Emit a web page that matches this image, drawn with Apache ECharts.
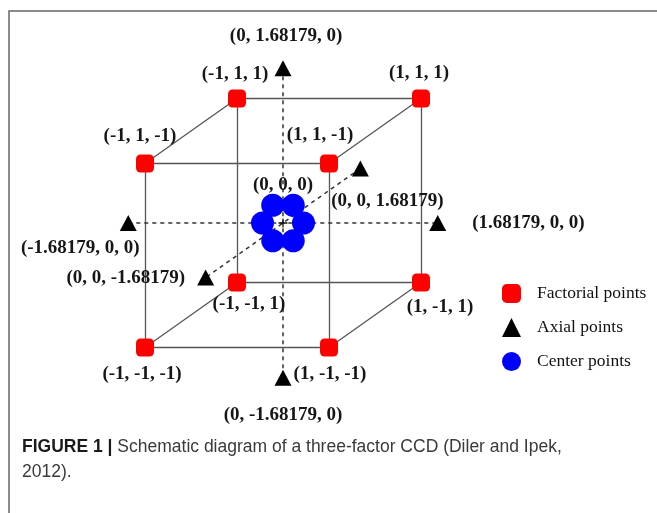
<!DOCTYPE html>
<html>
<head>
<meta charset="utf-8">
<script src="https://cdn.jsdelivr.net/npm/echarts@6/dist/echarts.min.js"></script>
<style>
  html, body { margin: 0; padding: 0; background: #fff; }
  #chart { width: 657px; height: 513px; }
</style>
</head>
<body>
<div id="chart"></div>
<script>
// Coded levels of a three-factor central composite design (CCD)
const alpha = 1.68179;

const factorialPoints = [
  [-1, 1, 1], [1, 1, 1], [-1, 1, -1], [1, 1, -1],
  [-1, -1, 1], [1, -1, 1], [-1, -1, -1], [1, -1, -1]
];

const axialPoints = [
  [0, alpha, 0], [0, -alpha, 0],
  [-alpha, 0, 0], [alpha, 0, 0],
  [0, 0, alpha], [0, 0, -alpha]
];

// six replicated runs at the design centre
const centerPoints = [[0, 0, 0], [0, 0, 0], [0, 0, 0], [0, 0, 0], [0, 0, 0], [0, 0, 0]];

const legendNames = ['Factorial points', 'Axial points', 'Center points'];

const captionHead = 'FIGURE 1 |';
const captionBody = 'Schematic diagram of a three-factor CCD (Diler and Ipek,\n2012).';

// ---- drawing ----
// oblique projection of (x, y, z) onto the plane: z recedes up and to the right
const DEPTH_X = 0.5, DEPTH_Y = 0.353;
function project(p) {
  return [p[0] + DEPTH_X * p[2], p[1] + DEPTH_Y * p[2]];
}
function fmt(p) {
  return '(' + p.map(v => String(v)).join(', ') + ')';
}

// label placement for each mark (pixel offsets from the mark)
const factorialLabelPos = [
  { offset: [-2, -24] }, { offset: [-2, -25] }, { offset: [-5, -27] }, { offset: [-9, -28] },
  { offset: [12, 22] }, { offset: [19, 25] }, { offset: [-3, 27] }, { offset: [1, 27] }
];
const axialLabelPos = [
  { offset: [3, -32] }, { offset: [0, 37] },
  { offset: [-48, 25] }, { position: 'right', distance: 26 },
  { offset: [27, 33] }, { position: 'left', distance: 12 }
];

const labelFont = {
  fontFamily: 'Liberation Serif',
  fontWeight: 'bold',
  fontSize: 19,
  color: '#161616'
};

function pointItem(p, lp) {
  const label = Object.assign({}, lp);
  if (!label.position) label.position = 'inside';
  return { value: project(p).concat(p), label: label };
}

// cube edges join corners that differ in exactly one factor
const cubeEdges = [];
for (let i = 0; i < factorialPoints.length; i++) {
  for (let j = i + 1; j < factorialPoints.length; j++) {
    const a = factorialPoints[i], b = factorialPoints[j];
    let diff = 0;
    for (let k = 0; k < 3; k++) if (a[k] !== b[k]) diff++;
    if (diff === 1) cubeEdges.push({ coords: [project(a), project(b)] });
  }
}

// dashed factor axes join each pair of opposite axial points
const axisLines = [];
for (let i = 0; i < axialPoints.length; i += 2) {
  axisLines.push({ coords: [project(axialPoints[i]), project(axialPoints[i + 1])] });
}

// replicates are spread round the centre so that each stays visible
const RING = 20.5;
const centerData = centerPoints.map((p, i) => {
  const ang = i * Math.PI / 3;
  return {
    value: project(p).concat(p),
    symbolOffset: [RING * Math.cos(ang), -RING * Math.sin(ang)]
  };
});

const PLUS = 'path://M4.3,0 H5.7 V4.3 H10 V5.7 H5.7 V10 H4.3 V5.7 H0 V4.3 H4.3 Z';

const chart = echarts.init(document.getElementById('chart'), null, { renderer: 'canvas' });

chart.setOption({
  animation: false,
  backgroundColor: '#ffffff',
  grid: { left: 7, top: 39, width: 644, height: 460, containLabel: false },
  xAxis: { type: 'value', min: -3, max: 4, show: false },
  yAxis: { type: 'value', min: -3, max: 2, show: false },
  legend: {
    orient: 'vertical',
    left: 497,
    top: 279,
    itemWidth: 19,
    itemHeight: 19,
    itemGap: 15,
    selectedMode: false,
    data: [
      { name: legendNames[0], icon: 'roundRect' },
      { name: legendNames[1], icon: 'triangle' },
      { name: legendNames[2], icon: 'circle' }
    ],
    textStyle: {
      fontFamily: 'Liberation Serif',
      fontSize: 17.5,
      color: '#111',
      padding: [0, 0, 0, 11]
    }
  },
  series: [
    {
      type: 'lines',
      coordinateSystem: 'cartesian2d',
      silent: true,
      z: 1,
      lineStyle: { color: '#555', width: 1.3, opacity: 1 },
      data: cubeEdges
    },
    {
      type: 'lines',
      coordinateSystem: 'cartesian2d',
      silent: true,
      z: 1,
      lineStyle: { color: '#333', width: 1.5, type: [4, 4], opacity: 1 },
      data: axisLines
    },
    {
      name: legendNames[2],
      type: 'scatter',
      z: 3,
      symbol: 'circle',
      symbolSize: 23,
      itemStyle: { color: '#0000ff', opacity: 1 },
      data: centerData
    },
    {
      name: 'centre marker',
      type: 'scatter',
      z: 4,
      symbol: PLUS,
      symbolSize: 9,
      itemStyle: { color: '#111', opacity: 1 },
      label: Object.assign({
        show: true,
        position: 'inside',
        offset: [0, -38],
        formatter: p => fmt(p.value.slice(2))
      }, labelFont),
      data: [{ value: project(centerPoints[0]).concat(centerPoints[0]) }]
    },
    {
      name: legendNames[0],
      type: 'scatter',
      z: 5,
      symbol: 'roundRect',
      symbolSize: 18,
      itemStyle: { color: '#ff0000', opacity: 1 },
      label: Object.assign({
        show: true,
        formatter: p => fmt(p.value.slice(2))
      }, labelFont),
      data: factorialPoints.map((p, i) => pointItem(p, factorialLabelPos[i]))
    },
    {
      name: legendNames[1],
      type: 'scatter',
      z: 5,
      symbol: 'triangle',
      symbolSize: [17, 16],
      itemStyle: { color: '#000', opacity: 1 },
      label: Object.assign({
        show: true,
        formatter: p => fmt(p.value.slice(2))
      }, labelFont),
      data: axialPoints.map((p, i) => pointItem(p, axialLabelPos[i]))
    }
  ],
  graphic: [
    {
      type: 'polyline',
      silent: true,
      shape: { points: [[9, 513], [9, 11], [657, 11]] },
      style: { stroke: '#666', lineWidth: 1.5, fill: null }
    },
    {
      type: 'text',
      left: 22,
      top: 438,
      silent: true,
      style: {
        text: '{h|' + captionHead + '} ' + captionBody.split('\n').map(s => '{t|' + s + '}').join('\n'),
        rich: {
          h: { fontFamily: 'Liberation Sans', fontWeight: 'bold', fontSize: 17.5, fill: '#1a1a1a', lineHeight: 25 },
          t: { fontFamily: 'Liberation Sans', fontSize: 17.5, fill: '#3a3a3a', lineHeight: 25 }
        },
        fontFamily: 'Liberation Sans',
        fontSize: 17.5,
        fill: '#3a3a3a'
      }
    }
  ]
});
</script>
</body>
</html>
